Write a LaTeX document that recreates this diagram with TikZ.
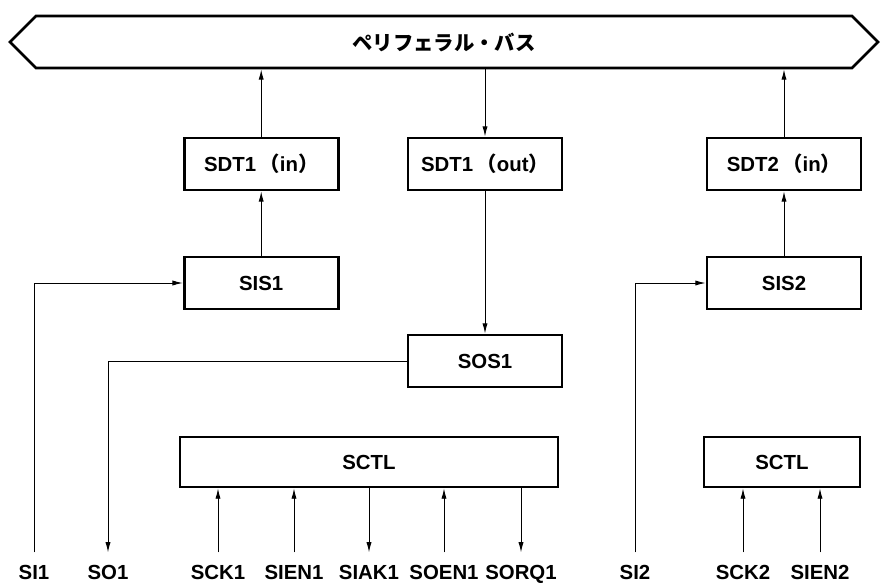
\documentclass[tikz,border=0pt]{standalone}
\usepackage{fontspec}
\setmainfont{Liberation Sans}
\newfontfamily\jpfont{Noto Sans CJK JP}
\usetikzlibrary{arrows.meta, positioning, shapes.symbols}

\begin{document}
\begin{tikzpicture}[
  box/.style={draw, line width=1.9pt, minimum width=3.85cm, minimum height=1.3cm, inner sep=2pt},
  sig/.style={inner xsep=1pt, inner ysep=8.5pt, text height=10.4pt, text depth=0pt},
  wire/.style={line width=0.7pt},
  >={Latex[length=2.6mm,width=1.3mm]},
  font=\fontsize{14.5}{17}\selectfont\bfseries
]
  \useasboundingbox (0,0) rectangle (22,14.65);
  % Bus
  \node[draw, line width=1.9pt, signal, signal to=west and east, signal pointer angle=90,
        minimum width=21.7cm, minimum height=1.3cm] (bus) at (11.1,13.6)
        {\jpfont ペリフェラル・バス};
  % Registers
  \node[box] (sdt1in) at (6.53,10.55) {SDT1\,{\jpfont（}in{\jpfont）}};
  \node[box] (sdt1out) at (12.125,10.55) {SDT1\,{\jpfont（}out{\jpfont）}};
  \node[box] (sdt2in) at (19.6,10.55) {SDT2\,{\jpfont（}in{\jpfont）}};
  \node[box] (sis1) at (6.53,7.575) {SIS1};
  \node[box] (sis2) at (19.6,7.575) {SIS2};
  \node[box] (sos1) at (12.125,5.625) {SOS1};
  % Control
  \node[box, minimum width=9.45cm, minimum height=1.25cm] (sctl1) at (9.225,3.1) {SCTL};
  \node[box, minimum width=3.9cm, minimum height=1.25cm] (sctl2) at (19.55,3.1) {SCTL};
  % Pins
  \node[sig] (si1) at (0.85,0.35) {SI1};
  \node[sig] (so1) at (2.7,0.35) {SO1};
  \node[sig] (sck1) at (5.45,0.35) {SCK1};
  \node[sig] (sien1) at (7.35,0.35) {SIEN1};
  \node[sig] (siak1) at (9.225,0.35) {SIAK1};
  \node[sig] (soen1) at (11.1,0.35) {SOEN1};
  \node[sig] (sorq1) at (13.025,0.35) {SORQ1};
  \node[sig] (si2) at (15.875,0.35) {SI2};
  \node[sig] (sck2) at (18.575,0.35) {SCK2};
  \node[sig] (sien2) at (20.5,0.35) {SIEN2};
  % Bus links
  \draw[wire,->] (sdt1in.north) -- (sdt1in.north |- bus.south);
  \draw[wire,->] (bus.south -| sdt1out.north) -- (sdt1out.north);
  \draw[wire,->] (sdt2in.north) -- (sdt2in.north |- bus.south);
  % Data path
  \draw[wire,->] (sis1.north) -- (sdt1in.south);
  \draw[wire,->] (sis2.north) -- (sdt2in.south);
  \draw[wire,->] (sdt1out.south) -- (sos1.north);
  \draw[wire,->] (si1.north) |- (sis1.west);
  \draw[wire,->] (sos1.west) -| (so1.north);
  \draw[wire,->] (si2.north) |- (sis2.west);
  % Control lines
  \foreach \s in {sck1, sien1, soen1}
    \draw[wire,->] (\s.north) -- (\s.north |- sctl1.south);
  \foreach \s in {siak1, sorq1}
    \draw[wire,->] (\s.north |- sctl1.south) -- (\s.north);
  \foreach \s in {sck2, sien2}
    \draw[wire,->] (\s.north) -- (\s.north |- sctl2.south);
\end{tikzpicture}
\end{document}
